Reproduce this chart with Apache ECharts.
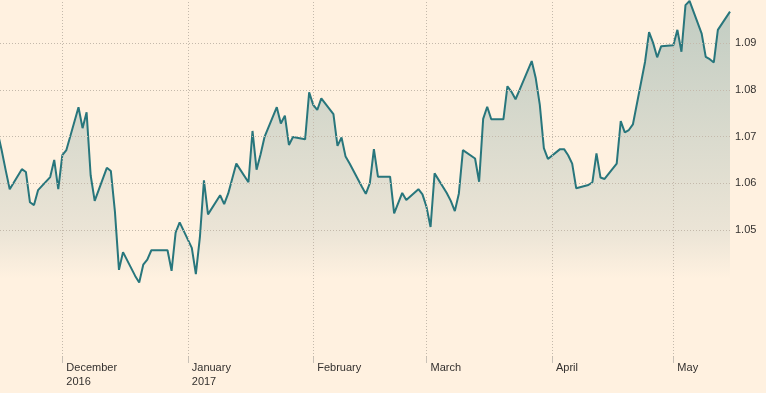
<!DOCTYPE html>
<html>
<head>
<meta charset="utf-8">
<script src="https://cdn.jsdelivr.net/npm/echarts@6/dist/echarts.min.js"></script>
<style>
html,body{margin:0;padding:0;background:#fff1e0;}
#chart{width:766px;height:393px;}
</style>
</head>
<body>
<div id="chart"></div>
<script>
// ---- data (daily closes) ----
const dates = [
'2016-11-15','2016-11-16','2016-11-17','2016-11-18',
'2016-11-21','2016-11-22','2016-11-23','2016-11-24','2016-11-25',
'2016-11-28','2016-11-29','2016-11-30','2016-12-01','2016-12-02',
'2016-12-05','2016-12-06','2016-12-07','2016-12-08','2016-12-09',
'2016-12-12','2016-12-13','2016-12-14','2016-12-15','2016-12-16',
'2016-12-19','2016-12-20','2016-12-21','2016-12-22','2016-12-23',
'2016-12-26','2016-12-27','2016-12-28','2016-12-29','2016-12-30',
'2017-01-02','2017-01-03','2017-01-04','2017-01-05','2017-01-06',
'2017-01-09','2017-01-10','2017-01-11','2017-01-12','2017-01-13',
'2017-01-16','2017-01-17','2017-01-18','2017-01-19','2017-01-20',
'2017-01-23','2017-01-24','2017-01-25','2017-01-26','2017-01-27',
'2017-01-30','2017-01-31','2017-02-01','2017-02-02','2017-02-03',
'2017-02-06','2017-02-07','2017-02-08','2017-02-09','2017-02-10',
'2017-02-13','2017-02-14','2017-02-15','2017-02-16','2017-02-17',
'2017-02-20','2017-02-21','2017-02-22','2017-02-23','2017-02-24',
'2017-02-27','2017-02-28','2017-03-01','2017-03-02','2017-03-03',
'2017-03-06','2017-03-07','2017-03-08','2017-03-09','2017-03-10',
'2017-03-13','2017-03-14','2017-03-15','2017-03-16','2017-03-17',
'2017-03-20','2017-03-21','2017-03-22','2017-03-23','2017-03-24',
'2017-03-27','2017-03-28','2017-03-29','2017-03-30','2017-03-31',
'2017-04-03','2017-04-04','2017-04-05','2017-04-06','2017-04-07',
'2017-04-10','2017-04-11','2017-04-12','2017-04-13','2017-04-14',
'2017-04-17','2017-04-18','2017-04-19','2017-04-20','2017-04-21',
'2017-04-24','2017-04-25','2017-04-26','2017-04-27','2017-04-28',
'2017-05-01','2017-05-02','2017-05-03','2017-05-04','2017-05-05',
'2017-05-08','2017-05-09','2017-05-10','2017-05-11','2017-05-12',
'2017-05-15'
];
const values = [
1.0710,1.0671,1.0628,1.0587,
1.0630,1.0624,1.0559,1.0553,1.0585,
1.0613,1.0650,1.0587,1.0660,1.0671,
1.0763,1.0718,1.0752,1.0617,1.0562,
1.0633,1.0626,1.0539,1.0414,1.0452,
1.0401,1.0387,1.0425,1.0436,1.0456,
1.0456,1.0456,1.0412,1.0494,1.0516,
1.0461,1.0405,1.0484,1.0606,1.0533,
1.0574,1.0555,1.0578,1.0610,1.0642,
1.0602,1.0712,1.0629,1.0662,1.0700,
1.0763,1.0728,1.0745,1.0682,1.0699,
1.0694,1.0795,1.0768,1.0757,1.0782,
1.0748,1.0680,1.0698,1.0657,1.0642,
1.0593,1.0577,1.0600,1.0673,1.0614,
1.0614,1.0535,1.0557,1.0579,1.0564,
1.0587,1.0576,1.0549,1.0506,1.0621,
1.0579,1.0562,1.0540,1.0578,1.0671,
1.0653,1.0603,1.0738,1.0764,1.0737,
1.0737,1.0808,1.0796,1.0780,1.0800,
1.0862,1.0825,1.0768,1.0675,1.0652,
1.0673,1.0673,1.0660,1.0642,1.0589,
1.0596,1.0602,1.0664,1.0612,1.0609,
1.0642,1.0733,1.0709,1.0714,1.0726,
1.0860,1.0924,1.0901,1.0870,1.0894,
1.0896,1.0929,1.0882,1.0982,1.0991,
1.0921,1.0871,1.0866,1.0859,1.0929,
1.0968
];
const monthStarts = ['2016-12-01','2017-01-01','2017-02-01','2017-03-01','2017-04-01','2017-05-01'];
const monthLabels = ['December\n2016','January\n2017','February','March','April','May'];
const yTicks = [1.05,1.06,1.07,1.08,1.09];
const xStart = '2016-11-15 14:24';
const xEnd = '2017-05-15';
const yMin = 1.0227, yMax = 1.0993;

// ---- helpers ----
function ts(s){
  const parts = s.split(' ');
  const [y,m,d] = parts[0].split('-').map(Number);
  let hh = 0, mm = 0;
  if (parts[1]) { [hh,mm] = parts[1].split(':').map(Number); }
  return new Date(y, m-1, d, hh, mm).getTime();
}
const monthTs = monthStarts.map(ts);
const seriesData = dates.map((d,i)=>[ts(d), values[i]]);
const gridColor = '#c4b9ab';
const textColor = '#33302e';
const font = '"Liberation Sans", Arial, sans-serif';

const chart = echarts.init(document.getElementById('chart'), null, {renderer:'canvas'});
chart.setOption({
  animation:false,
  backgroundColor:'#fff1e0',
  grid:{left:0, right:36, top:0, bottom:36, containLabel:false},
  xAxis:{
    type:'time',
    min: ts(xStart), max: ts(xEnd),
    splitNumber:6,
    maxInterval: 31*24*3600*1000,
    minInterval: 28*24*3600*1000,
    axisLine:{show:false},
    axisTick:{show:true, length:6, lineStyle:{color:'#c9c1b6', width:1}},
    splitLine:{show:false},
    axisLabel:{
      margin:4,
      align:'left',
      verticalAlign:'top',
      padding:[0,0,0,4],
      color:textColor,
      fontFamily:font,
      fontSize:11,
      lineHeight:14,
      hideOverlap:false,
      formatter:function(v){
        const i = monthTs.indexOf(v);
        return i >= 0 ? monthLabels[i] : '';
      }
    }
  },
  yAxis:{
    type:'value',
    position:'right',
    min:yMin, max:yMax,
    splitNumber:8,
    axisLine:{show:false},
    axisTick:{show:false},
    splitLine:{show:false},
    axisLabel:{
      margin:5,
      color:textColor,
      fontFamily:font,
      fontSize:11,
      showMinLabel:false,
      showMaxLabel:false,
      formatter:function(v){
        for (const t of yTicks) { if (Math.abs(v - t) < 1e-6) return t.toFixed(2); }
        return '';
      }
    }
  },
  series:[{
    type:'line',
    data:seriesData,
    symbol:'none',
    showSymbol:false,
    clip:true,
    lineStyle:{color:'#28767c', width:2},
    areaStyle:{
      origin:'start',
      color:new echarts.graphic.LinearGradient(0,0,0,1,[
        {offset:0, color:'#a6bcb5'},
        {offset:0.5, color:'#d5d7cb'},
        {offset:0.65, color:'#e3dfd2'},
        {offset:0.78, color:'#fff1e0'},
        {offset:1, color:'#fff1e0'}
      ])
    },
    markLine:{
      silent:true,
      symbol:['none','none'],
      label:{show:false},
      animation:false,
      lineStyle:{type:[1,2], color:gridColor, width:1},
      emphasis:{disabled:true},
      data:[
        ...monthTs.map(t=>({xAxis:t})),
        ...yTicks.map(v=>({yAxis:v}))
      ]
    }
  }]
});
</script>
</body>
</html>
